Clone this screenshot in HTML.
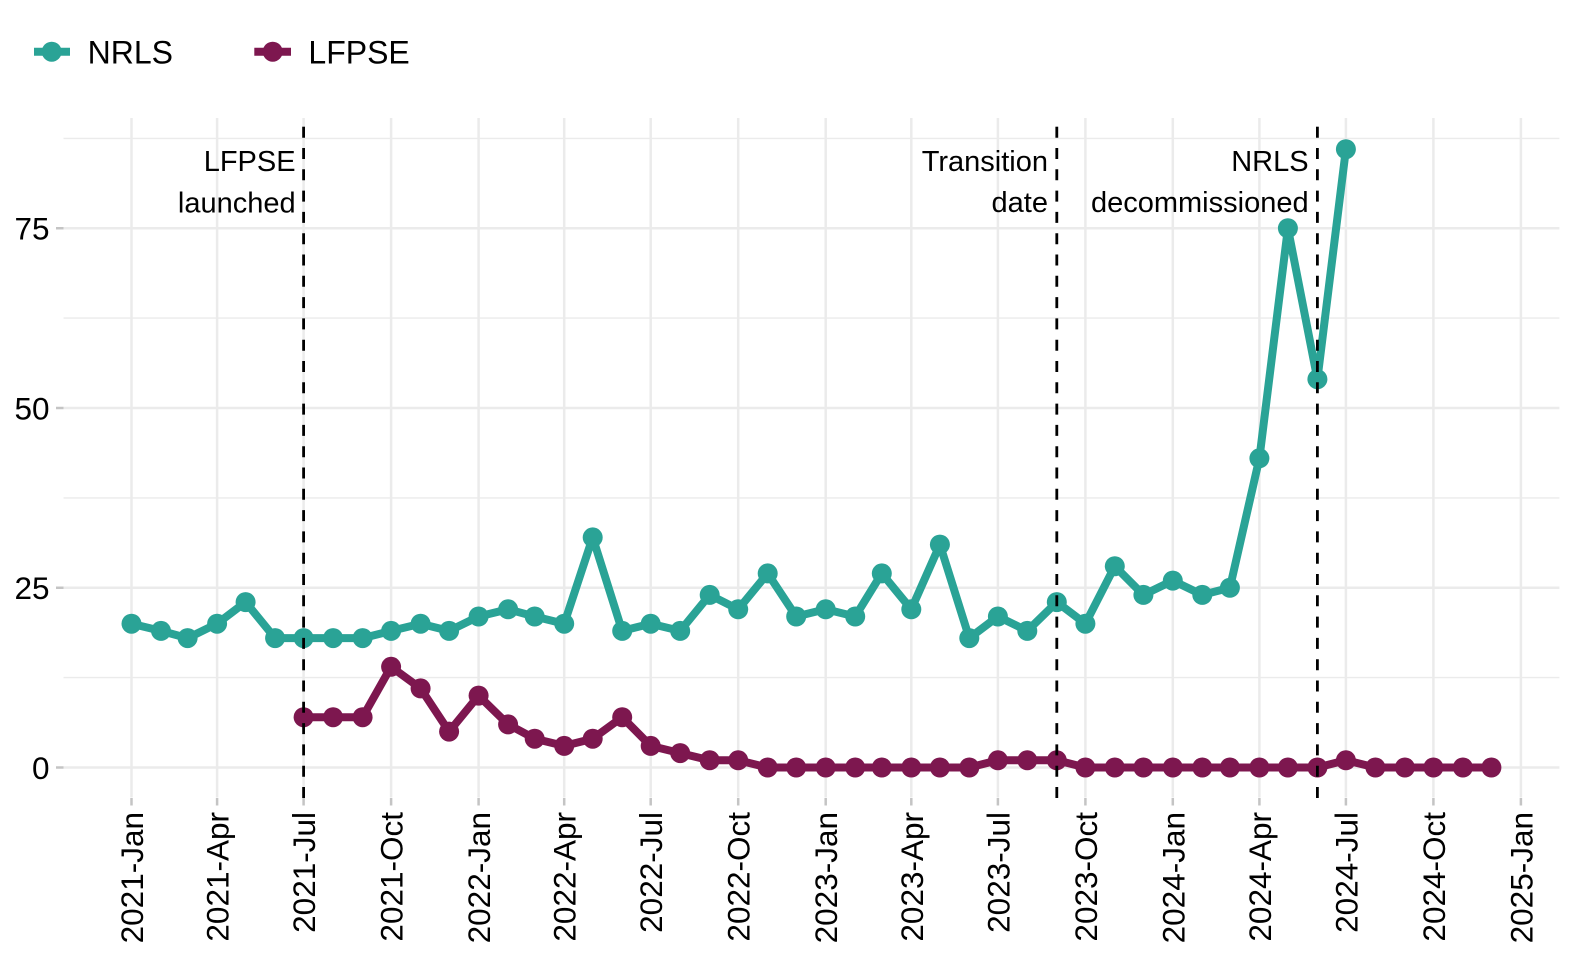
<!DOCTYPE html>
<html>
<head>
<meta charset="utf-8">
<style>
  html,body{margin:0;padding:0;background:#fff;}
  svg{display:block;}
  text{font-family:"Liberation Sans",Arial,sans-serif;fill:#000;}
</style>
</head>
<body>
<svg width="1574" height="960" viewBox="0 0 1574 960" xmlns="http://www.w3.org/2000/svg">
  <rect x="0" y="0" width="1574" height="960" fill="#fff"/>

  <!-- minor horizontal gridlines -->
  <g stroke="#EBEBEB" stroke-width="1.4">
    <line x1="63.5" y1="677.6" x2="1559.4" y2="677.6"/>
    <line x1="63.5" y1="497.9" x2="1559.4" y2="497.9"/>
    <line x1="63.5" y1="318.1" x2="1559.4" y2="318.1"/>
    <line x1="63.5" y1="138.4" x2="1559.4" y2="138.4"/>
  </g>
  <!-- major horizontal gridlines -->
  <g stroke="#EBEBEB" stroke-width="2.5">
    <line x1="63.5" y1="767.5" x2="1559.4" y2="767.5"/>
    <line x1="63.5" y1="587.75" x2="1559.4" y2="587.75"/>
    <line x1="63.5" y1="408" x2="1559.4" y2="408"/>
    <line x1="63.5" y1="228.25" x2="1559.4" y2="228.25"/>
  </g>
  <!-- major vertical gridlines -->
  <g stroke="#EBEBEB" stroke-width="2.5">
    <line x1="131.5" y1="118" x2="131.5" y2="797.5"/>
    <line x1="217.1" y1="118" x2="217.1" y2="797.5"/>
    <line x1="303.6" y1="118" x2="303.6" y2="797.5"/>
    <line x1="391.1" y1="118" x2="391.1" y2="797.5"/>
    <line x1="478.6" y1="118" x2="478.6" y2="797.5"/>
    <line x1="564.2" y1="118" x2="564.2" y2="797.5"/>
    <line x1="650.7" y1="118" x2="650.7" y2="797.5"/>
    <line x1="738.2" y1="118" x2="738.2" y2="797.5"/>
    <line x1="825.7" y1="118" x2="825.7" y2="797.5"/>
    <line x1="911.3" y1="118" x2="911.3" y2="797.5"/>
    <line x1="997.9" y1="118" x2="997.9" y2="797.5"/>
    <line x1="1085.4" y1="118" x2="1085.4" y2="797.5"/>
    <line x1="1172.8" y1="118" x2="1172.8" y2="797.5"/>
    <line x1="1259.4" y1="118" x2="1259.4" y2="797.5"/>
    <line x1="1345.9" y1="118" x2="1345.9" y2="797.5"/>
    <line x1="1433.4" y1="118" x2="1433.4" y2="797.5"/>
    <line x1="1520.9" y1="118" x2="1520.9" y2="797.5"/>
  </g>

  <!-- axis ticks -->
  <g stroke="#C4C4C4" stroke-width="2.5">
    <line x1="56" y1="767.5" x2="63.5" y2="767.5"/>
    <line x1="56" y1="587.75" x2="63.5" y2="587.75"/>
    <line x1="56" y1="408" x2="63.5" y2="408"/>
    <line x1="56" y1="228.25" x2="63.5" y2="228.25"/>
    <line x1="131.5" y1="798" x2="131.5" y2="805.5"/>
    <line x1="217.1" y1="798" x2="217.1" y2="805.5"/>
    <line x1="303.6" y1="798" x2="303.6" y2="805.5"/>
    <line x1="391.1" y1="798" x2="391.1" y2="805.5"/>
    <line x1="478.6" y1="798" x2="478.6" y2="805.5"/>
    <line x1="564.2" y1="798" x2="564.2" y2="805.5"/>
    <line x1="650.7" y1="798" x2="650.7" y2="805.5"/>
    <line x1="738.2" y1="798" x2="738.2" y2="805.5"/>
    <line x1="825.7" y1="798" x2="825.7" y2="805.5"/>
    <line x1="911.3" y1="798" x2="911.3" y2="805.5"/>
    <line x1="997.9" y1="798" x2="997.9" y2="805.5"/>
    <line x1="1085.4" y1="798" x2="1085.4" y2="805.5"/>
    <line x1="1172.8" y1="798" x2="1172.8" y2="805.5"/>
    <line x1="1259.4" y1="798" x2="1259.4" y2="805.5"/>
    <line x1="1345.9" y1="798" x2="1345.9" y2="805.5"/>
    <line x1="1433.4" y1="798" x2="1433.4" y2="805.5"/>
    <line x1="1520.9" y1="798" x2="1520.9" y2="805.5"/>
  </g>

  <!-- y tick labels -->
  <g font-size="31.5" text-anchor="end">
    <text x="49.5" y="778.8">0</text>
    <text x="49.5" y="599">25</text>
    <text x="49.5" y="419.3">50</text>
    <text x="49.5" y="239.5">75</text>
  </g>

  <!-- x tick labels -->
  <g font-size="31.5" text-anchor="end">
    <text transform="translate(143,812) rotate(-90)">2021-Jan</text>
    <text transform="translate(228.6,812) rotate(-90)">2021-Apr</text>
    <text transform="translate(315.1,812) rotate(-90)">2021-Jul</text>
    <text transform="translate(402.6,812) rotate(-90)">2021-Oct</text>
    <text transform="translate(490.1,812) rotate(-90)">2022-Jan</text>
    <text transform="translate(575.7,812) rotate(-90)">2022-Apr</text>
    <text transform="translate(662.2,812) rotate(-90)">2022-Jul</text>
    <text transform="translate(749.7,812) rotate(-90)">2022-Oct</text>
    <text transform="translate(837.2,812) rotate(-90)">2023-Jan</text>
    <text transform="translate(922.8,812) rotate(-90)">2023-Apr</text>
    <text transform="translate(1009.4,812) rotate(-90)">2023-Jul</text>
    <text transform="translate(1096.9,812) rotate(-90)">2023-Oct</text>
    <text transform="translate(1184.3,812) rotate(-90)">2024-Jan</text>
    <text transform="translate(1270.9,812) rotate(-90)">2024-Apr</text>
    <text transform="translate(1357.4,812) rotate(-90)">2024-Jul</text>
    <text transform="translate(1444.9,812) rotate(-90)">2024-Oct</text>
    <text transform="translate(1532.4,812) rotate(-90)">2025-Jan</text>
  </g>

  <!-- series lines -->
  <polyline fill="none" stroke="#2AA396" stroke-width="8" stroke-linejoin="round"
    points="131.5,623.7 161.0,630.9 187.6,638.1 217.1,623.7 245.6,602.1 275.1,638.1 303.6,638.1 333.1,638.1 362.6,638.1 391.1,630.9 420.6,623.7 449.1,630.9 478.6,616.5 508.1,609.3 534.7,616.5 564.2,623.7 592.7,537.4 622.2,630.9 650.7,623.7 680.2,630.9 709.7,594.9 738.2,609.3 767.7,573.4 796.2,616.5 825.7,609.3 855.2,616.5 881.8,573.4 911.3,609.3 939.9,544.6 969.3,638.1 997.9,616.5 1027.3,630.9 1056.8,602.1 1085.4,623.7 1114.8,566.2 1143.4,594.9 1172.8,580.6 1202.3,594.9 1229.9,587.75 1259.4,458.3 1287.9,228.25 1317.4,379.2 1345.9,149.2"/>
  <polyline fill="none" stroke="#7D174F" stroke-width="8" stroke-linejoin="round"
    points="303.6,717.2 333.1,717.2 362.6,717.2 391.1,666.8 420.6,688.4 449.1,731.6 478.6,695.6 508.1,724.4 534.7,738.7 564.2,745.9 592.7,738.7 622.2,717.2 650.7,745.9 680.2,753.1 709.7,760.3 738.2,760.3 767.7,767.5 796.2,767.5 825.7,767.5 855.2,767.5 881.8,767.5 911.3,767.5 939.9,767.5 969.3,767.5 997.9,760.3 1027.3,760.3 1056.8,760.3 1085.4,767.5 1114.8,767.5 1143.4,767.5 1172.8,767.5 1202.3,767.5 1229.9,767.5 1259.4,767.5 1287.9,767.5 1317.4,767.5 1345.9,760.3 1375.4,767.5 1404.9,767.5 1433.4,767.5 1462.9,767.5 1491.4,767.5"/>

  <!-- NRLS points -->
  <g fill="#2AA396">
    <circle cx="131.5" cy="623.7" r="10"/><circle cx="161.0" cy="630.9" r="10"/><circle cx="187.6" cy="638.1" r="10"/>
    <circle cx="217.1" cy="623.7" r="10"/><circle cx="245.6" cy="602.1" r="10"/><circle cx="275.1" cy="638.1" r="10"/>
    <circle cx="303.6" cy="638.1" r="10"/><circle cx="333.1" cy="638.1" r="10"/><circle cx="362.6" cy="638.1" r="10"/>
    <circle cx="391.1" cy="630.9" r="10"/><circle cx="420.6" cy="623.7" r="10"/><circle cx="449.1" cy="630.9" r="10"/>
    <circle cx="478.6" cy="616.5" r="10"/><circle cx="508.1" cy="609.3" r="10"/><circle cx="534.7" cy="616.5" r="10"/>
    <circle cx="564.2" cy="623.7" r="10"/><circle cx="592.7" cy="537.4" r="10"/><circle cx="622.2" cy="630.9" r="10"/>
    <circle cx="650.7" cy="623.7" r="10"/><circle cx="680.2" cy="630.9" r="10"/><circle cx="709.7" cy="594.9" r="10"/>
    <circle cx="738.2" cy="609.3" r="10"/><circle cx="767.7" cy="573.4" r="10"/><circle cx="796.2" cy="616.5" r="10"/>
    <circle cx="825.7" cy="609.3" r="10"/><circle cx="855.2" cy="616.5" r="10"/><circle cx="881.8" cy="573.4" r="10"/>
    <circle cx="911.3" cy="609.3" r="10"/><circle cx="939.9" cy="544.6" r="10"/><circle cx="969.3" cy="638.1" r="10"/>
    <circle cx="997.9" cy="616.5" r="10"/><circle cx="1027.3" cy="630.9" r="10"/><circle cx="1056.8" cy="602.1" r="10"/>
    <circle cx="1085.4" cy="623.7" r="10"/><circle cx="1114.8" cy="566.2" r="10"/><circle cx="1143.4" cy="594.9" r="10"/>
    <circle cx="1172.8" cy="580.6" r="10"/><circle cx="1202.3" cy="594.9" r="10"/><circle cx="1229.9" cy="587.75" r="10"/>
    <circle cx="1259.4" cy="458.3" r="10"/><circle cx="1287.9" cy="228.25" r="10"/><circle cx="1317.4" cy="379.2" r="10"/>
    <circle cx="1345.9" cy="149.2" r="10"/>
  </g>
  <!-- LFPSE points -->
  <g fill="#7D174F">
    <circle cx="303.6" cy="717.2" r="10"/><circle cx="333.1" cy="717.2" r="10"/><circle cx="362.6" cy="717.2" r="10"/>
    <circle cx="391.1" cy="666.8" r="10"/><circle cx="420.6" cy="688.4" r="10"/><circle cx="449.1" cy="731.6" r="10"/>
    <circle cx="478.6" cy="695.6" r="10"/><circle cx="508.1" cy="724.4" r="10"/><circle cx="534.7" cy="738.7" r="10"/>
    <circle cx="564.2" cy="745.9" r="10"/><circle cx="592.7" cy="738.7" r="10"/><circle cx="622.2" cy="717.2" r="10"/>
    <circle cx="650.7" cy="745.9" r="10"/><circle cx="680.2" cy="753.1" r="10"/><circle cx="709.7" cy="760.3" r="10"/>
    <circle cx="738.2" cy="760.3" r="10"/><circle cx="767.7" cy="767.5" r="10"/><circle cx="796.2" cy="767.5" r="10"/>
    <circle cx="825.7" cy="767.5" r="10"/><circle cx="855.2" cy="767.5" r="10"/><circle cx="881.8" cy="767.5" r="10"/>
    <circle cx="911.3" cy="767.5" r="10"/><circle cx="939.9" cy="767.5" r="10"/><circle cx="969.3" cy="767.5" r="10"/>
    <circle cx="997.9" cy="760.3" r="10"/><circle cx="1027.3" cy="760.3" r="10"/><circle cx="1056.8" cy="760.3" r="10"/>
    <circle cx="1085.4" cy="767.5" r="10"/><circle cx="1114.8" cy="767.5" r="10"/><circle cx="1143.4" cy="767.5" r="10"/>
    <circle cx="1172.8" cy="767.5" r="10"/><circle cx="1202.3" cy="767.5" r="10"/><circle cx="1229.9" cy="767.5" r="10"/>
    <circle cx="1259.4" cy="767.5" r="10"/><circle cx="1287.9" cy="767.5" r="10"/><circle cx="1317.4" cy="767.5" r="10"/>
    <circle cx="1345.9" cy="760.3" r="10"/><circle cx="1375.4" cy="767.5" r="10"/><circle cx="1404.9" cy="767.5" r="10"/>
    <circle cx="1433.4" cy="767.5" r="10"/><circle cx="1462.9" cy="767.5" r="10"/><circle cx="1491.4" cy="767.5" r="10"/>
  </g>

  <!-- dashed vertical lines -->
  <g stroke="#000" stroke-width="2.8" stroke-dasharray="11 10.3" fill="none">
    <path d="M303.6 798 V118"/>
    <path d="M1056.8 798 V118"/>
    <path d="M1317.4 798 V118"/>
  </g>

  <!-- annotations -->
  <g font-size="29" text-anchor="end">
    <text x="295.6" y="171">LFPSE</text>
    <text x="295.6" y="212.5">launched</text>
    <text x="1048" y="171">Transition</text>
    <text x="1048" y="212">date</text>
    <text x="1308.6" y="171">NRLS</text>
    <text x="1308.6" y="212">decommissioned</text>
  </g>

  <!-- legend -->
  <line x1="34" y1="51.7" x2="70" y2="51.7" stroke="#2AA396" stroke-width="8"/>
  <circle cx="51.7" cy="51.7" r="10" fill="#2AA396"/>
  <text x="87.6" y="63.3" font-size="32">NRLS</text>
  <line x1="254.3" y1="51.7" x2="291" y2="51.7" stroke="#7D174F" stroke-width="8"/>
  <circle cx="272.7" cy="51.7" r="10" fill="#7D174F"/>
  <text x="308.4" y="63.3" font-size="32">LFPSE</text>
</svg>
</body>
</html>
